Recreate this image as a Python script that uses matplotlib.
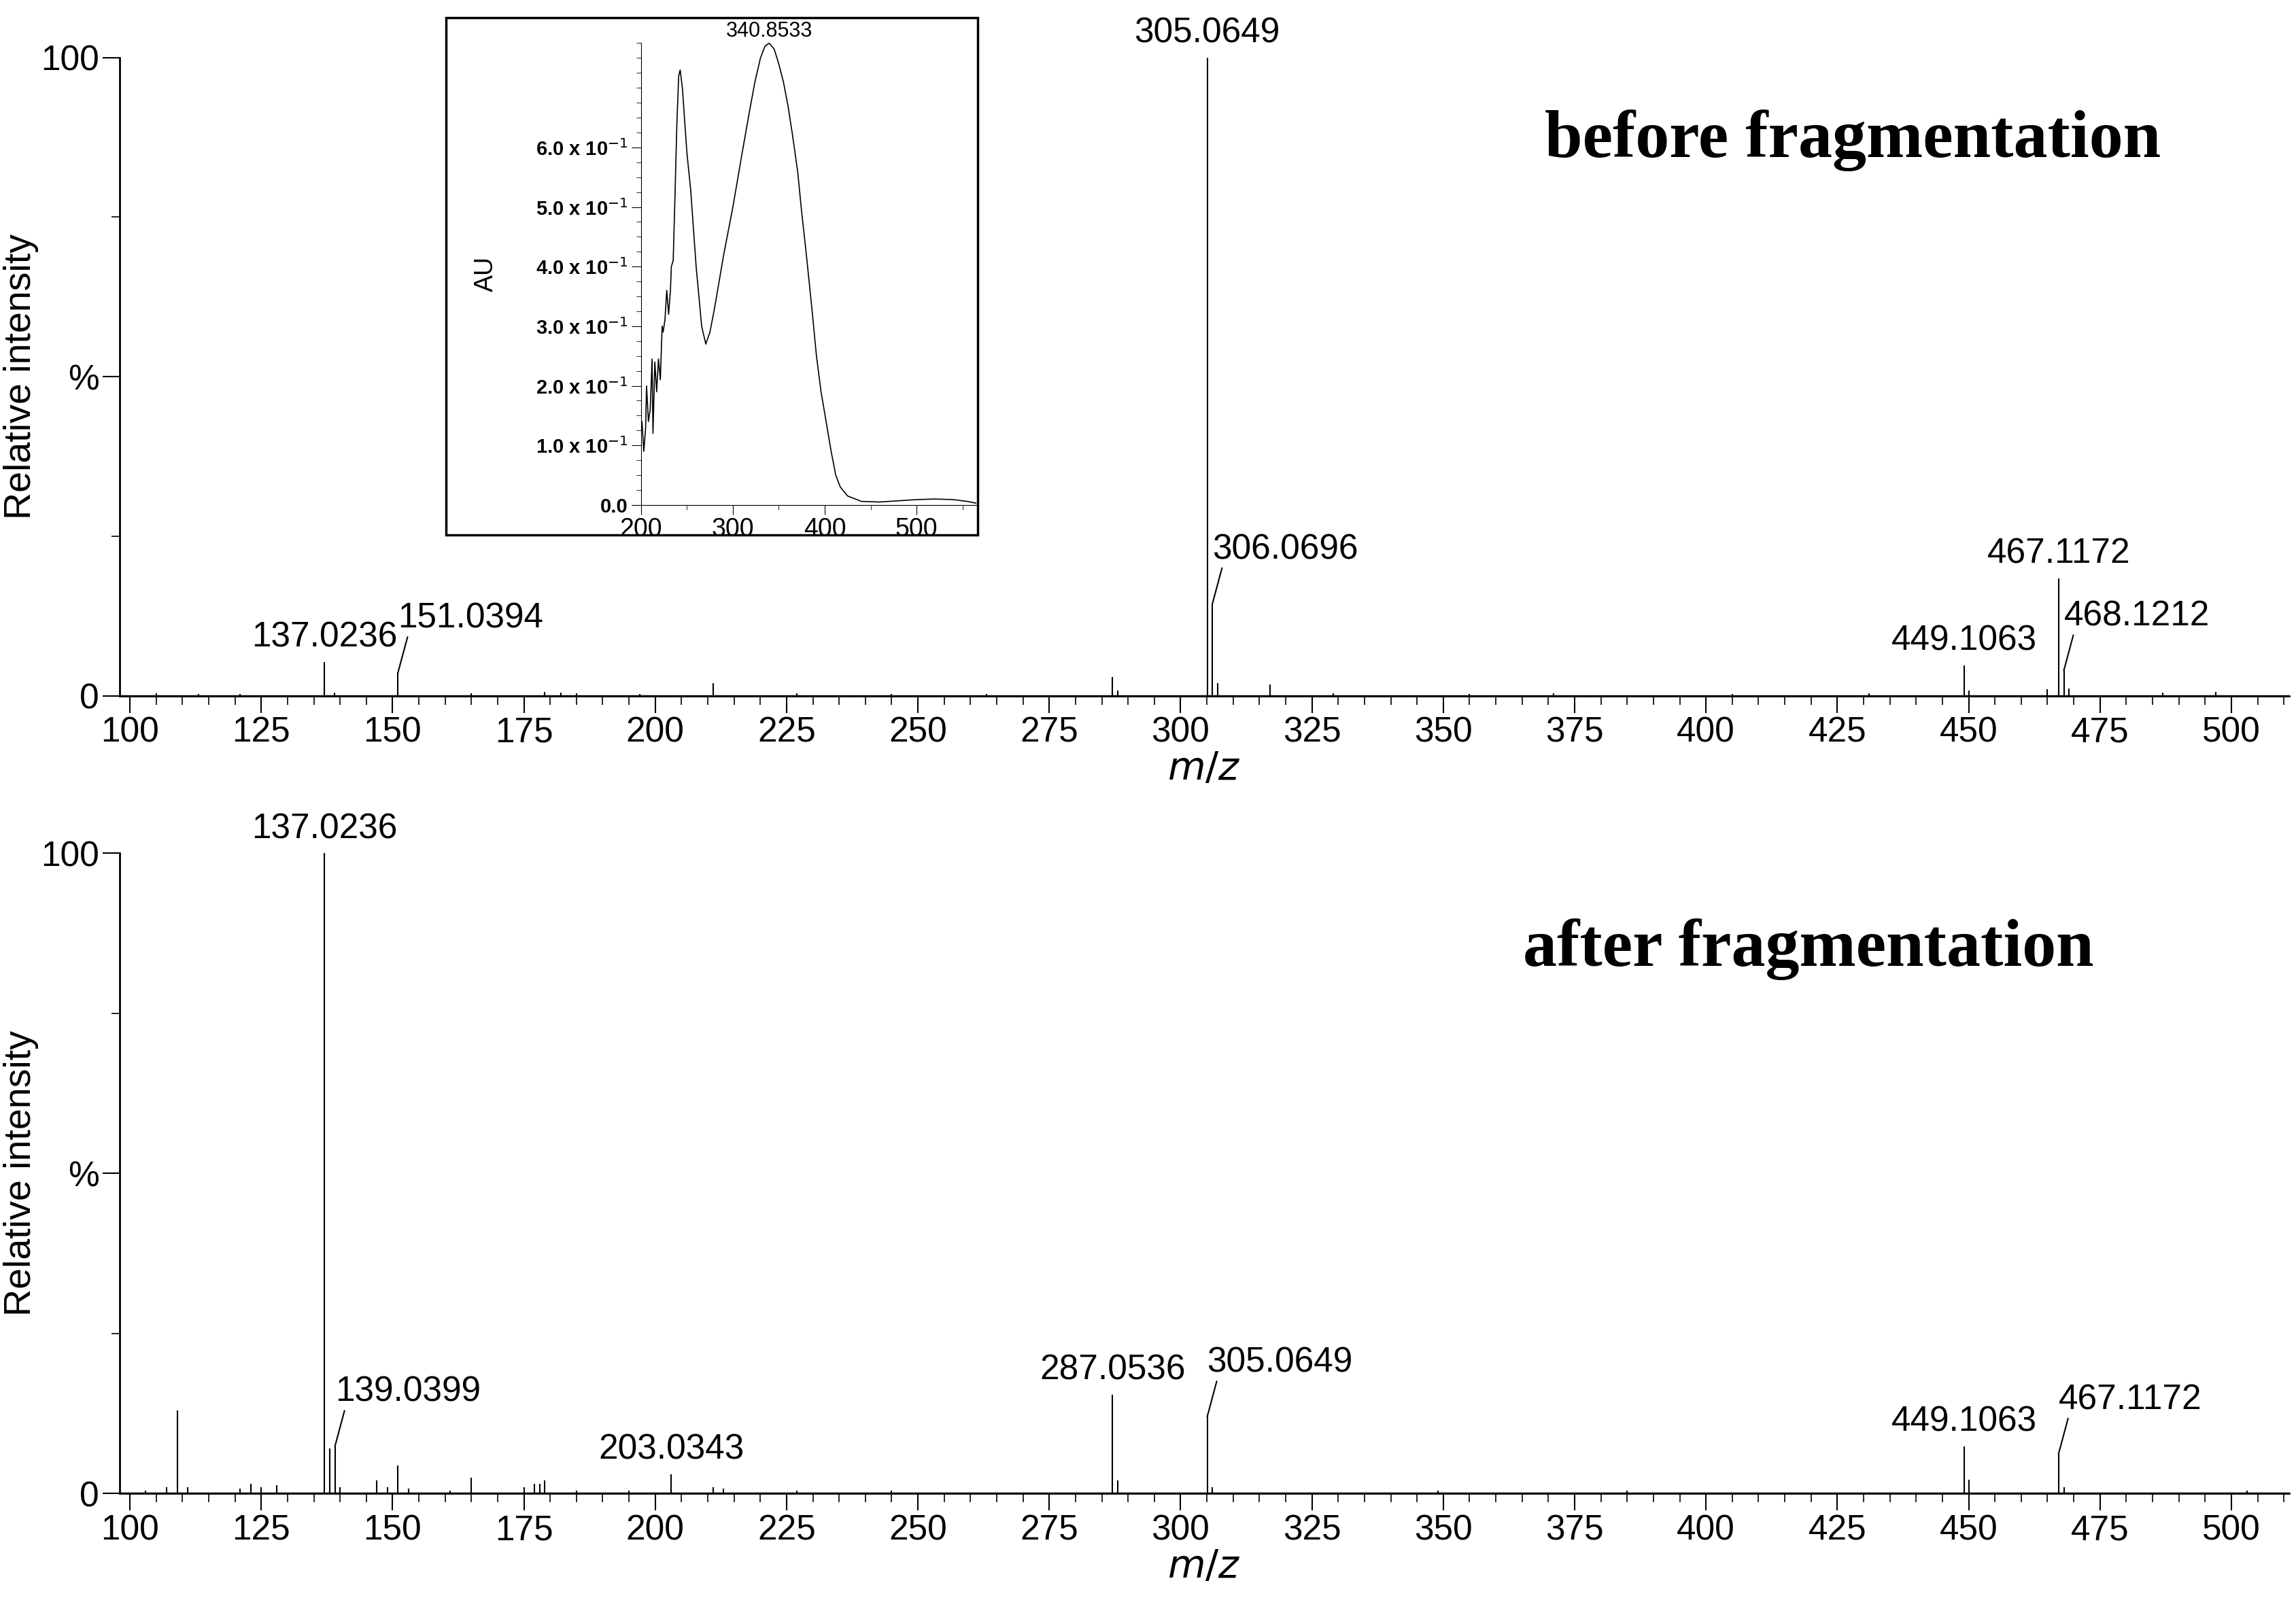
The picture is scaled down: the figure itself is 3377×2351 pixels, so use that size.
import matplotlib
matplotlib.use("Agg")
import matplotlib.pyplot as plt
from matplotlib.patches import Rectangle

plt.rcParams['font.family'] = ['Liberation Sans', 'DejaVu Sans']

# top spectrum (before fragmentation)
top_mz = [105, 113, 121, 137.0236, 139, 151.0394, 165, 179, 182, 185, 197, 211, 227, 245, 263, 287.0, 288, 305.0649, 306.0696, 307.07, 317, 329, 355, 371, 405, 431, 449.1063, 450, 465, 467.1172, 468.1212, 469.12, 487, 497]
top_int = [0.4, 0.3, 0.3, 5.3, 0.5, 3.7, 0.4, 0.6, 0.5, 0.4, 0.3, 2.0, 0.4, 0.3, 0.3, 3.0, 0.8, 100, 14.5, 2.0, 1.8, 0.4, 0.3, 0.4, 0.3, 0.4, 4.8, 0.8, 1.0, 18.4, 4.0, 1.2, 0.5, 0.6]
top_labels = [(137.0236, "137.0236", 0), (151.0394, "151.0394", 1), (305.0649, "305.0649", 0),
              (306.0696, "306.0696", 1), (449.1063, "449.1063", 0), (467.1172, "467.1172", 0),
              (468.1212, "468.1212", 1)]

# bottom spectrum (after fragmentation)
bot_mz = [103, 107, 109.03, 111, 121, 123, 125, 128, 137.0236, 138.03, 139.0399, 140, 147, 149, 151.02, 153, 161, 165, 175, 177, 178, 179, 185, 195, 203.0343, 211, 213, 227, 245, 287.0536, 288.06, 305.0649, 306, 349, 385, 449.1063, 450.11, 467.1172, 468.12, 503]
bot_int = [0.5, 1.0, 13.0, 1.0, 0.8, 1.5, 1.0, 1.3, 100, 7.0, 7.4, 1.0, 2.0, 1.0, 4.4, 0.8, 0.5, 2.5, 1.0, 1.5, 1.5, 2.0, 0.5, 0.5, 3.0, 1.0, 0.8, 0.5, 0.4, 15.4, 2.0, 12.0, 1.0, 0.4, 0.4, 7.4, 2.2, 6.2, 1.0, 0.5]
bot_labels = [(137.0236, "137.0236", 0), (139.0399, "139.0399", 1), (203.0343, "203.0343", 0),
              (287.0536, "287.0536", 0), (305.0649, "305.0649", 1), (449.1063, "449.1063", 0),
              (467.1172, "467.1172", 1)]

# UV inset
uv_x = [200, 201, 203, 205, 206, 208, 210, 212, 213, 215, 217, 219, 221, 223, 224, 226, 228, 230, 232, 233, 235, 237, 239, 241, 242.6, 245, 250, 254, 260, 266, 270.5, 275, 280, 285, 290, 300, 310, 318, 324, 330, 335, 339.5, 345, 350, 355, 360, 365, 370.5, 375, 380, 386, 391, 396, 401.5, 407, 412, 417, 425, 440, 460, 480, 500, 520, 540, 555, 565]
uv_y = [0.13, 0.14, 0.09, 0.13, 0.20, 0.14, 0.16, 0.245, 0.12, 0.24, 0.19, 0.245, 0.21, 0.30, 0.29, 0.31, 0.36, 0.32, 0.36, 0.40, 0.41, 0.52, 0.64, 0.72, 0.73, 0.70, 0.59, 0.53, 0.40, 0.30, 0.27, 0.29, 0.33, 0.375, 0.42, 0.50, 0.59, 0.66, 0.71, 0.75, 0.77, 0.775, 0.765, 0.74, 0.71, 0.67, 0.62, 0.56, 0.49, 0.42, 0.33, 0.25, 0.19, 0.14, 0.09, 0.05, 0.03, 0.015, 0.006, 0.005, 0.007, 0.009, 0.01, 0.009, 0.006, 0.003]

fig = plt.figure(figsize=(33.77, 23.51), dpi=100)
FS = 37

def spectrum(ax, mz, inten, labels, title, tx, ty):
    ax.vlines(mz, 0, inten, color='black', lw=1.5)
    ax.axhline(0, color='black', lw=2.5)
    ax.set_xlim(98, 511)
    ax.set_ylim(0, 100)
    for s in ['top', 'right']:
        ax.spines[s].set_visible(False)
    ax.spines['left'].set_linewidth(2)
    ax.spines['bottom'].set_linewidth(2)
    ax.set_xticks(range(100, 501, 25))
    ax.set_xticks(range(100, 511, 5), minor=True)
    ax.set_yticks([0, 50, 100])
    ax.set_yticklabels(['0', '%', '100'])
    ax.set_yticks([25, 75], minor=True)
    ax.tick_params(axis='both', which='major', length=18, width=1.5, labelsize=FS, direction='out')
    ax.tick_params(axis='both', which='minor', length=9, width=1.2, direction='out')
    ax.set_xlabel('$m/z$', fontsize=FS + 4, labelpad=2)
    ax.set_ylabel('Relative intensity', fontsize=40, labelpad=2)
    ax.text(tx, ty, title, transform=ax.transAxes, ha='right', va='center',
            fontsize=72, fontweight='bold', family='Liberation Serif')
    for mzv, lab, leader in labels:
        y = inten[min(range(len(mz)), key=lambda i: abs(mz[i] - mzv))]
        if leader:
            ax.plot([mzv, mzv + 1.8], [y, y + 5.5], color='black', lw=1.5)
            ax.text(mzv, y + 5.8, lab, ha='left', va='bottom', fontsize=FS)
        else:
            ax.text(mzv, y + 1.2, lab, ha='center', va='bottom', fontsize=FS)

ax1 = fig.add_axes([0.052, 0.5645, 0.945, 0.3995])
spectrum(ax1, top_mz, top_int, top_labels, 'before fragmentation', 0.941, 0.87)
ax2 = fig.add_axes([0.052, 0.0654, 0.945, 0.4006])
spectrum(ax2, bot_mz, bot_int, bot_labels, 'after fragmentation', 0.910, 0.85)

# inset box
fig.patches.append(Rectangle((0.1943, 0.6652), 0.2316, 0.3237,
                             transform=fig.transFigure, fill=True, facecolor='white',
                             edgecolor='black', lw=2.5, zorder=5))
ax3 = fig.add_axes([0.2792, 0.684, 0.146, 0.289], zorder=6)
ax3.patch.set_alpha(0)
ax3.plot(uv_x, uv_y, color='black', lw=1.2)
ax3.set_xlim(200, 565)
ax3.set_ylim(0, 0.775)
for s in ['top', 'right']:
    ax3.spines[s].set_visible(False)
ax3.set_xticks([200, 300, 400, 500])
ax3.set_xticks(range(200, 566, 50), minor=True)
ax3.set_yticks([0, 0.1, 0.2, 0.3, 0.4, 0.5, 0.6])
ax3.set_yticklabels(['0.0', '1.0 x 10$^{-1}$', '2.0 x 10$^{-1}$', '3.0 x 10$^{-1}$',
                     '4.0 x 10$^{-1}$', '5.0 x 10$^{-1}$', '6.0 x 10$^{-1}$'], fontweight='bold')
ax3.set_yticks([i * 0.025 for i in range(32)], minor=True)
ax3.tick_params(axis='y', which='major', labelsize=21, length=10)
ax3.tick_params(axis='x', which='major', labelsize=27, length=10, pad=3)
ax3.tick_params(which='minor', length=5)
ax3.set_ylabel('AU', fontsize=27, labelpad=40)
ax3.text(339.5, 0.778, '340.8533', ha='center', va='bottom', fontsize=22)

fig.savefig('out.png', dpi=100)
